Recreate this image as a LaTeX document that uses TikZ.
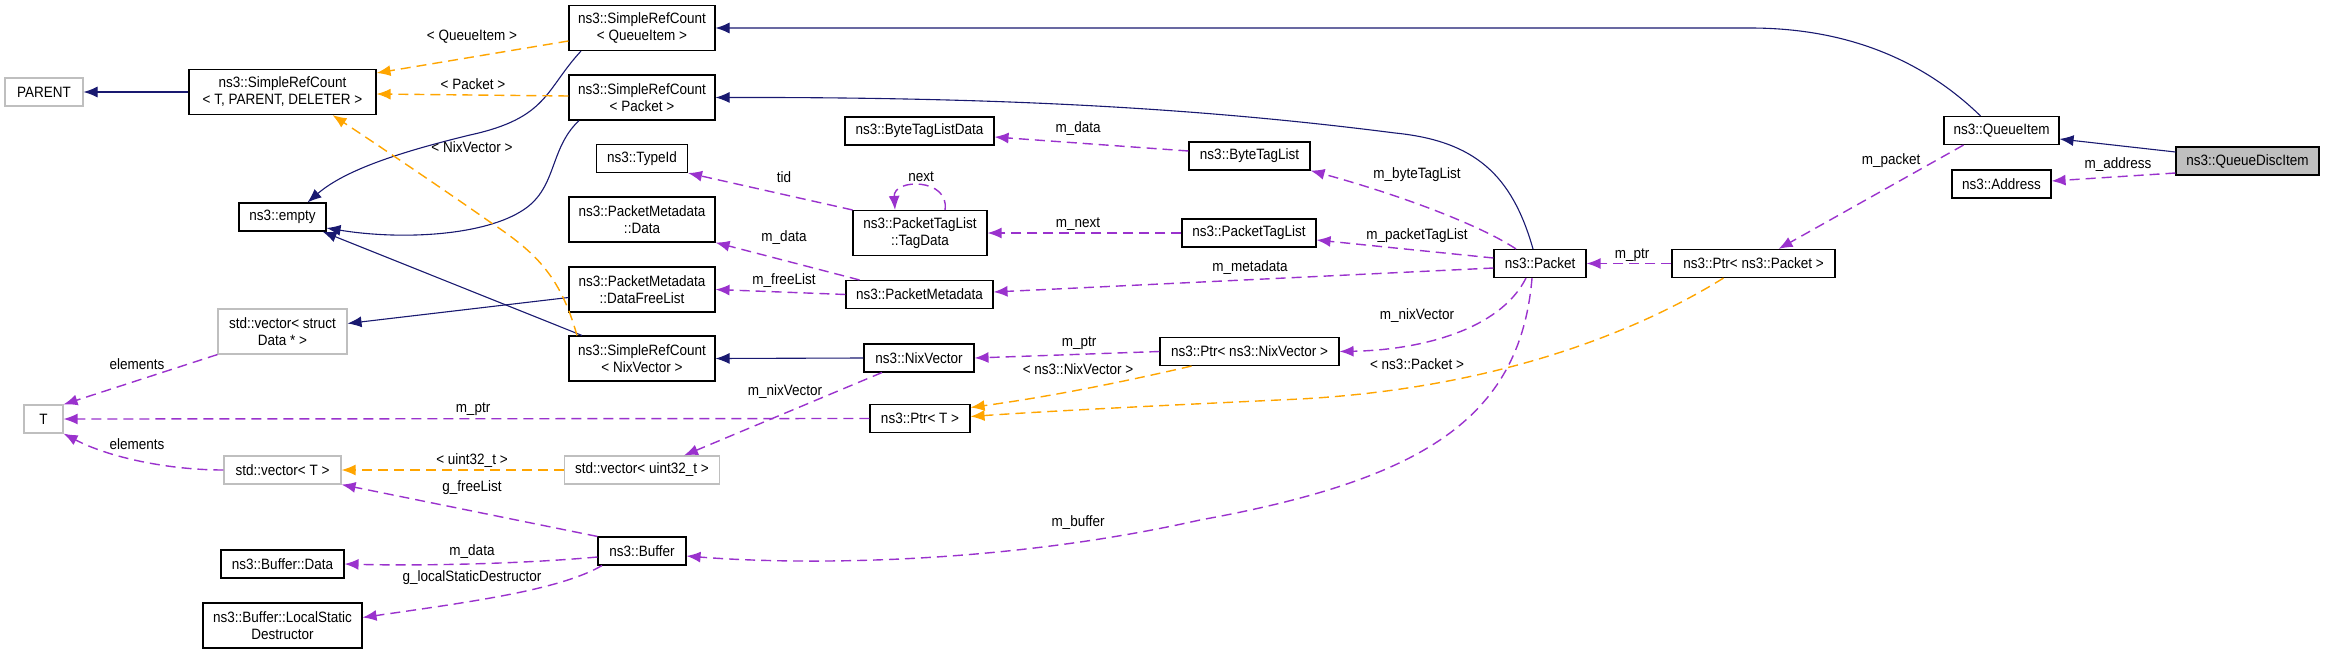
\documentclass[tikz,border=0pt]{standalone}
\usepackage{fontspec}
\setmainfont{Liberation Sans}[FakeStretch=0.9]
\usetikzlibrary{arrows.meta}
\definecolor{inhblue}{HTML}{191970}
\definecolor{tplorange}{HTML}{FFA500}
\definecolor{usepurple}{HTML}{9A32CD}
\definecolor{extgray}{HTML}{BFBFBF}
\tikzset{
  cls/.style={draw=black, line width=1.1pt, minimum height=28pt, align=center, inner sep=2pt, font=\fontsize{15}{17}\selectfont},
  ext/.style={cls, draw=extgray},
  two/.style={minimum height=45pt},
  inherit/.style={draw=inhblue, line width=1.1pt, -{Latex[length=14pt,width=11pt]}},
  templ/.style={draw=tplorange, line width=1.4pt, dash pattern=on 10pt off 6pt, -{Latex[length=14pt,width=11pt]}},
  uses/.style={draw=usepurple, line width=1.4pt, dash pattern=on 10pt off 6pt, -{Latex[length=14pt,width=11pt]}},
  lbl/.style={text=black, inner sep=0pt, font=\fontsize{15}{17}\selectfont}
}
\begin{document}
\begin{tikzpicture}[x=1pt, y=-1pt]
    \useasboundingbox (0,0) rectangle (2325,653);
    % classes
    \node[ext, minimum width=78pt] (parent) at (44,92) {PARENT};
    \node[cls, two, minimum width=187pt] (srcT) at (282.5,92) {ns3::SimpleRefCount\\< T, PARENT, DELETER >};
    \node[cls, two, minimum width=146pt] (srcQI) at (642,28) {ns3::SimpleRefCount\\< QueueItem >};
    \node[cls, two, minimum width=146pt] (srcPkt) at (642,97.5) {ns3::SimpleRefCount\\< Packet >};
    \node[cls, two, minimum width=146pt] (srcNix) at (642,358.5) {ns3::SimpleRefCount\\< NixVector >};
    \node[cls, minimum width=87pt] (empty) at (282.5,217) {ns3::empty};
    \node[cls, minimum width=91pt] (typeId) at (642,158.5) {ns3::TypeId};
    \node[cls, two, minimum width=146pt] (pmData) at (642,219.5) {ns3::PacketMetadata\\::Data};
    \node[cls, two, minimum width=146pt] (pmFree) at (642,289.5) {ns3::PacketMetadata\\::DataFreeList};
    \node[ext, two, minimum width=129pt] (vecData) at (282.5,331.5) {std::vector< struct\\Data * >};
    \node[ext, minimum width=39pt] (tNode) at (43.5,419) {T};
    \node[ext, minimum width=117pt] (vecT) at (282.5,470) {std::vector< T >};
    \node[ext, minimum width=155pt] (vecU32) at (642,470) {std::vector< uint32\_t >};
    \node[cls, minimum width=88pt] (buffer) at (642,551) {ns3::Buffer};
    \node[cls, minimum width=123pt] (bufData) at (282.5,564) {ns3::Buffer::Data};
    \node[cls, two, minimum width=159pt] (bufLSD) at (282.5,625.5) {ns3::Buffer::LocalStatic\\Destructor};
    \node[cls, minimum width=149pt] (btlData) at (919.5,131) {ns3::ByteTagListData};
    \node[cls, minimum width=121pt] (btl) at (1249.5,156) {ns3::ByteTagList};
    \node[cls, two, minimum width=134pt] (tagData) at (920,233) {ns3::PacketTagList\\::TagData};
    \node[cls, minimum width=134pt] (ptl) at (1249,233) {ns3::PacketTagList};
    \node[cls, minimum width=147pt] (pm) at (919.5,294.5) {ns3::PacketMetadata};
    \node[cls, minimum width=110pt] (nix) at (919,358) {ns3::NixVector};
    \node[cls, minimum width=179pt] (ptrNix) at (1249.5,351.5) {ns3::Ptr< ns3::NixVector >};
    \node[cls, minimum width=100pt] (ptrT) at (920,418.5) {ns3::Ptr< T >};
    \node[cls, minimum width=92pt] (packet) at (1540,263.5) {ns3::Packet};
    \node[cls, minimum width=163pt] (ptrPkt) at (1753.5,263.5) {ns3::Ptr< ns3::Packet >};
    \node[cls, minimum width=115pt] (queueItem) at (2001.5,130.5) {ns3::QueueItem};
    \node[cls, minimum width=99pt] (address) at (2001.5,184) {ns3::Address};
    \node[cls, fill=extgray, minimum width=143pt] (qdi) at (2247.5,161) {ns3::QueueDiscItem};
    % inheritance
    \draw[inherit] (srcT.west) -- (parent.east);
    \draw[inherit] ([xshift=-21pt]queueItem.north) .. controls (1925,62) and (1850,28) .. (1750,28) -- (srcQI.east);
    \draw[inherit] ([xshift=-7pt]packet.north) .. controls (1512,175) and (1475,141) .. (1395,133) .. controls (1200,108) and (1000,97) .. (srcPkt.east);
    \draw[inherit] ([xshift=-61pt]srcQI.south) .. controls (545,90) and (548,118) .. (470,135) .. controls (400,152) and (345,170) .. ([xshift=25pt]empty.north);
    \draw[inherit] ([xshift=-63pt]srcPkt.south) .. controls (548,150) and (558,190) .. (520,212) .. controls (480,236) and (400,240) .. ([yshift=-11pt]empty.east);
    \draw[inherit] ([xshift=-60pt]srcNix.north) -- ([xshift=40pt]empty.south);
    \draw[inherit] ([yshift=-8pt]pmFree.west) -- ([yshift=8pt]vecData.east);
    \draw[inherit] (nix.west) -- (srcNix.east);
    \draw[inherit] ([yshift=9pt]qdi.west) -- ([yshift=-8.5pt]queueItem.east);
    % template instances
    \draw[templ] ([yshift=-13pt]srcQI.west) -- ([yshift=19pt]srcT.east) node[lbl] at (472,37) {< QueueItem >};
    \draw[templ] ([yshift=1.5pt]srcPkt.west) -- ([yshift=-2pt]srcT.east) node[lbl] at (473,84) {< Packet >};
    \draw[templ] ([xshift=-65pt]srcNix.north) .. controls (560,275) and (535,252) .. (490,222) .. controls (430,180) and (370,140) .. ([xshift=50pt]srcT.south) node[lbl] at (472,147) {< NixVector >};
    \draw[templ] (vecU32.west) -- (vecT.east) node[lbl] at (472,461) {< uint32\_t >};
    \draw[templ] ([xshift=-58pt]ptrNix.south) .. controls (1110,385) and (1040,398) .. ([yshift=11pt]ptrT.east) node[lbl] at (1078,369) {< ns3::NixVector >};
    \draw[templ] ([xshift=-30pt]ptrPkt.south) .. controls (1640,330) and (1500,388) .. (1300,399) .. controls (1150,406) and (1050,411) .. ([yshift=2pt]ptrT.east) node[lbl] at (1417,364) {< ns3::Packet >};
    % members
    \draw[uses] (vecData.south west) -- (tNode.north east) node[lbl] at (137,364) {elements};
    \draw[uses] (vecT.west) .. controls (170,470) and (110,458) .. (tNode.south east) node[lbl] at (137,444) {elements};
    \draw[uses] (ptrT.west) -- (tNode.east) node[lbl] at (473,409) {m\_ptr};
    \draw[uses] ([xshift=-37pt]nix.south) -- ([xshift=42pt]vecU32.north) node[lbl] at (785,392) {m\_nixVector};
    \draw[uses] (buffer.north west) -- (vecT.south east) node[lbl] at (472,488) {g\_freeList};
    \draw[uses] ([yshift=-6pt]buffer.west) .. controls (520,564) and (420,566) .. (bufData.east) node[lbl] at (472,552) {m\_data};
    \draw[uses] ([xshift=-40pt]buffer.south) .. controls (560,590) and (470,602) .. ([yshift=8pt]bufLSD.east) node[lbl] at (472,578) {g\_localStaticDestructor};
    \draw[uses] ([xshift=-8pt]packet.south) .. controls (1520,420) and (1420,480) .. (1200,520) .. controls (1000,565) and (800,565) .. ([yshift=-5pt]buffer.east) node[lbl] at (1078,523) {m\_buffer};
    \draw[uses] ([xshift=-14pt]packet.south) .. controls (1500,330) and (1420,350) .. (ptrNix.east) node[lbl] at (1417,316) {m\_nixVector};
    \draw[uses] ([yshift=-4.5pt]packet.west) -- ([yshift=2.5pt]pm.east) node[lbl] at (1250,268) {m\_metadata};
    \draw[uses] ([yshift=5.5pt]packet.west) -- ([yshift=-7pt]ptl.east) node[lbl] at (1417,236) {m\_packetTagList};
    \draw[uses] ([xshift=-24pt]packet.north) .. controls (1480,225) and (1400,195) .. (btl.south east) node[lbl] at (1417,175) {m\_byteTagList};
    \draw[uses] ([yshift=5pt]btl.west) -- ([yshift=-6pt]btlData.east) node[lbl] at (1078,129) {m\_data};
    \draw[uses] (ptl.west) -- (tagData.east) node[lbl] at (1078,224) {m\_next};
    \draw[uses] ([xshift=25pt]tagData.north) .. controls (950,178) and (893,178) .. ([xshift=-25pt]tagData.north) node[lbl] at (921,177) {next};
    \draw[uses] (tagData.north west) -- (typeId.south east) node[lbl] at (784,177) {tid};
    \draw[uses] ([xshift=14pt]pm.north west) -- (pmData.south east) node[lbl] at (784,238) {m\_data};
    \draw[uses] (pm.west) -- (pmFree.east) node[lbl] at (784,281) {m\_freeList};
    \draw[uses] (ptrNix.west) -- (nix.east) node[lbl] at (1079,343) {m\_ptr};
    \draw[uses] (ptrPkt.west) -- (packet.east) node[lbl] at (1632,255) {m\_ptr};
    \draw[uses] ([xshift=-38pt]queueItem.south) -- ([xshift=25pt]ptrPkt.north) node[lbl] at (1891,161) {m\_packet};
    \draw[uses] ([yshift=-12pt]qdi.west) -- ([yshift=3pt]address.east) node[lbl] at (2118,165) {m\_address};
\end{tikzpicture}
\end{document}
